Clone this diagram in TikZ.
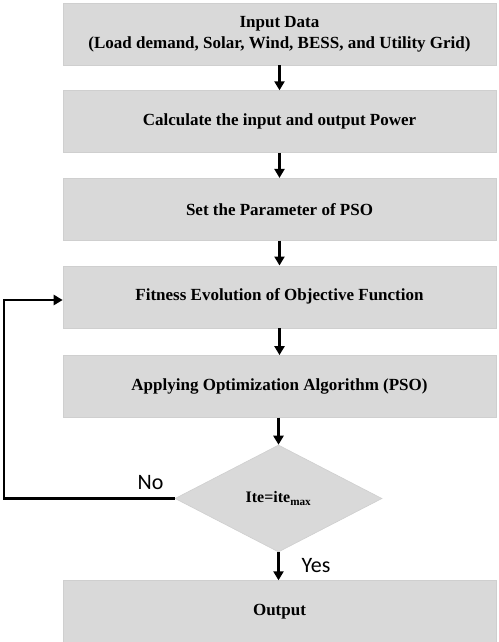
\documentclass[tikz,border=0pt]{standalone}
\usepackage{fontspec}
\setmainfont{Liberation Serif}
\newfontfamily\labelfont{Carlito}
\definecolor{boxGray}{HTML}{D9D9D9}
\definecolor{edgeGray}{HTML}{CFCFCF}
\usetikzlibrary{positioning,shapes.geometric,arrows.meta}

\begin{document}
\begin{tikzpicture}[
                x=1pt, y=1pt,
                node distance=25pt,
                stepbox/.style={fill=boxGray, draw=edgeGray, line width=0.6pt,
                                minimum width=433pt, minimum height=62pt,
                                align=center, font=\bfseries\fontsize{17}{21}\selectfont,
                                inner sep=2pt},
                check/.style={diamond, fill=boxGray, draw=edgeGray, line width=0.6pt,
                              minimum width=207pt, minimum height=107pt, inner sep=0pt,
                              font=\bfseries\fontsize{16}{18}\selectfont},
                flow/.style={line width=2.8pt, -{Triangle[length=9pt,width=10pt]}},
                lbl/.style={font=\labelfont\fontsize{22}{24}\selectfont, inner sep=1pt}
            ]
                \useasboundingbox (0,0) rectangle (498,-642);
                \node[stepbox] (input) at (279.5,-34) {Input Data\\(Load demand, Solar, Wind, BESS, and Utility Grid)};
                \node[stepbox, below=25pt of input] (power) {Calculate the input and output Power};
                \node[stepbox, below=of power] (param) {Set the Parameter of PSO};
                \node[stepbox, below=of param] (fitness) {Fitness Evolution of Objective Function};
                \node[stepbox, below=27pt of fitness] (pso) {Applying Optimization Algorithm (PSO)};
                \node[check, below=27pt of pso.south, anchor=north, xshift=-1pt] (iter) {Ite=ite\textsubscript{max}};
                \node[stepbox, below=28pt of iter.south, anchor=north, xshift=1pt] (output) {Output};
                \coordinate (loop) at (4,-300);

                \draw[flow] (input) -- (power);
                \draw[flow] (power) -- (param);
                \draw[flow] (param) -- (fitness);
                \draw[flow] (fitness) -- (pso);
                \draw[flow] (pso.south -| iter.north) -- (iter.north);
                \draw[flow] (iter.south) -- (iter.south |- output.north);
                \draw[flow] (iter.west) -| (loop) -- (loop -| fitness.west);

                \node[lbl, above left=8pt and 10pt of iter.west] (no) {No};
                \node[lbl, below right=5pt and 22pt of iter.south] (yes) {Yes};
            \end{tikzpicture}
\end{document}
